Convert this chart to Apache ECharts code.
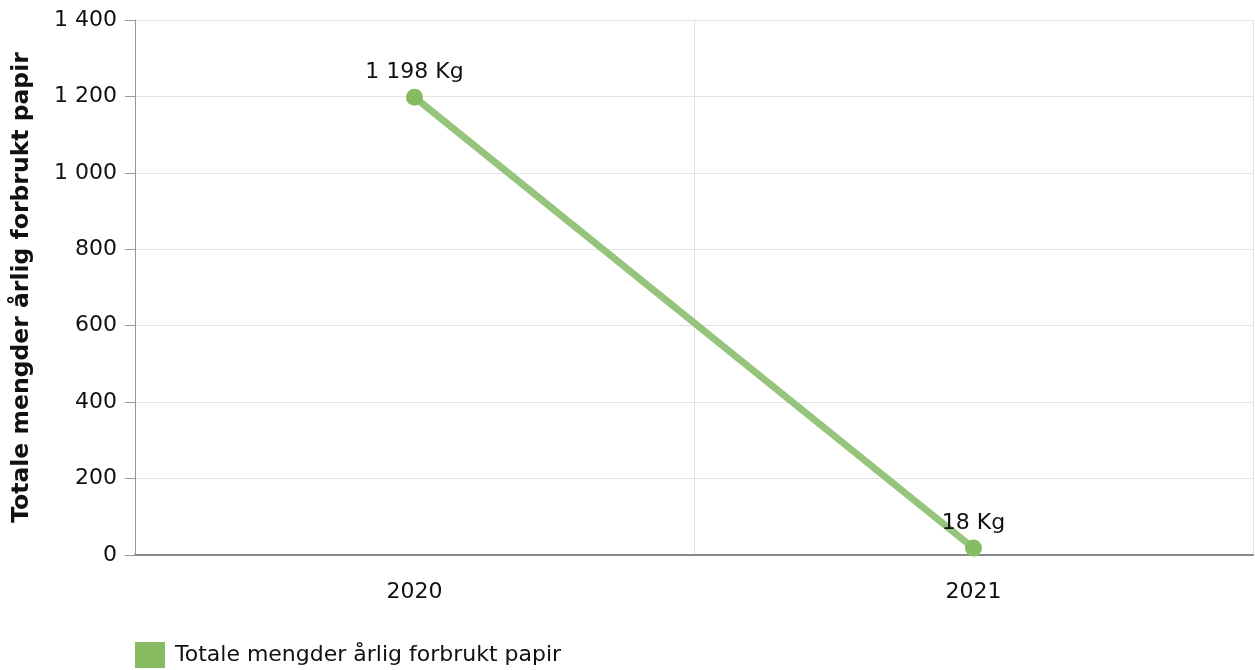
<!DOCTYPE html>
<html>
<head>
<meta charset="utf-8">
<script src="https://cdn.jsdelivr.net/npm/echarts@6/dist/echarts.min.js"></script>
<style>html,body{margin:0;padding:0;background:#fff}#c{width:1255px;height:670px}</style>
</head>
<body>
<div id="c"></div>
<script>
const categories = ['2020', '2021'];
const values = [1198, 18];
const seriesName = 'Totale mengder årlig forbrukt papir';
const yTitle = 'Totale mengder årlig forbrukt papir';

function fmt(v) {
  return String(Math.round(v)).replace(/\B(?=(\d{3})+(?!\d))/g, ' ');
}

const chart = echarts.init(document.getElementById('c'));
const FONT = 'DejaVu Sans';
chart.setOption({
  animation: false,
  textStyle: { fontFamily: FONT },
  grid: { left: 135, right: 2, top: 20, bottom: 115 },
  legend: {
    left: 130, top: 637,
    itemWidth: 30, itemHeight: 26, itemGap: 10,
    icon: 'rect',
    textStyle: { fontFamily: FONT, fontSize: 22, color: '#111', padding: [0, 0, 0, 5] },
    data: [{ name: seriesName, itemStyle: { color: '#87bb62' } }]
  },
  xAxis: {
    type: 'category',
    data: categories,
    boundaryGap: true,
    axisLine: { lineStyle: { color: '#888', width: 2 } },
    axisTick: { alignWithLabel: true, length: 8, lineStyle: { color: '#aaa', width: 1 } },
    axisLabel: { fontFamily: FONT, fontSize: 22, color: '#111', margin: 26 },
    splitLine: { show: true, lineStyle: { color: '#e0e0e0', width: 1 } }
  },
  yAxis: {
    type: 'value',
    min: 0, max: 1400, interval: 200,
    name: yTitle,
    nameLocation: 'middle',
    nameGap: 101,
    nameTextStyle: { fontFamily: FONT, fontSize: 23.5, fontWeight: 'bold', color: '#111' },
    axisLine: { show: true, lineStyle: { color: '#999', width: 1 } },
    axisTick: { show: true, length: 10, lineStyle: { color: '#999' } },
    axisLabel: { fontFamily: FONT, fontSize: 22, color: '#111', margin: 18, formatter: fmt },
    splitLine: { lineStyle: { color: '#e3e3e3', width: 1 } }
  },
  series: [{
    name: seriesName,
    type: 'line',
    data: values,
    symbol: 'circle',
    symbolSize: 17,
    lineStyle: { color: '#95c47c', width: 7 },
    itemStyle: { color: '#87bb62' },
    label: {
      show: true, position: 'top', distance: 5,
      fontFamily: FONT, fontSize: 22, color: '#111',
      formatter: p => fmt(p.value) + ' Kg'
    }
  }]
});
</script>
</body>
</html>
